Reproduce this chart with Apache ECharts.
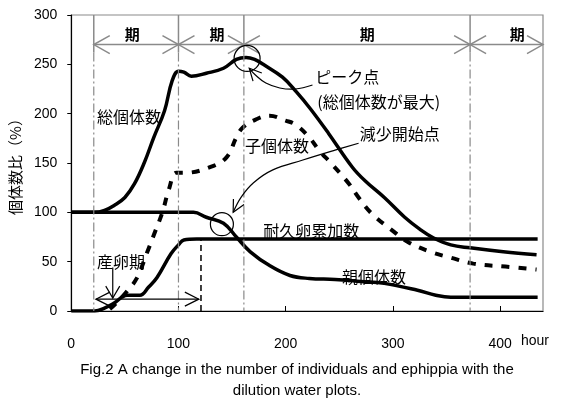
<!DOCTYPE html>
<html>
<head>
<meta charset="utf-8">
<script src="https://cdn.jsdelivr.net/npm/echarts@6/dist/echarts.min.js"></script>
<style>
html, body { margin: 0; background: #fff; }
#chart { width: 563px; height: 399px; }
</style>
</head>
<body>
<div id="chart"></div>
<script>
// 総個体数 [hour, %]
const totalPts = [[0, 100], [22, 100], [31, 102], [40, 107], [50, 115], [59, 129], [68, 150], [77, 176],
  [87, 203], [94, 233], [100, 243], [105, 242], [112, 238], [126, 241], [142, 246], [154, 255],
  [163, 257], [171, 255], [179, 250], [197, 237], [210, 222], [223, 205], [240, 180], [262, 146],
  [274, 132], [292, 115], [311, 95], [325, 83], [338, 74], [354, 67], [372, 64], [403, 60], [434, 57]];
// 子個体数
const childPts = [[36, 2], [42, 8], [52, 20], [61, 33], [71, 60], [77, 77], [85, 100], [91, 123],
  [98, 140], [105, 140], [130, 146], [145, 156], [154, 176], [160, 186], [172, 194], [185, 198],
  [200, 193], [209, 189], [222, 176], [231, 163], [243, 149], [259, 129], [268, 115], [280, 99],
  [299, 82], [314, 70], [335, 60], [354, 54], [375, 48], [405, 45], [434, 42]];
// 親個体数
const parentPts = [[0, 100], [114, 100], [126, 95], [142, 89], [154, 75], [167, 60], [185, 46],
  [204, 36], [222, 33], [246, 32], [270, 30], [292, 28], [323, 21], [340, 16], [354, 14], [435, 14]];
// 耐久卵累加数
const ephippiaPts = [[0, 0], [22, 0], [31, 3], [40, 8], [52, 16], [64, 16], [72, 24], [80, 34],
  [93, 58], [100, 67], [105, 72], [117, 73], [435, 73]];

// 期の区切り (hour)
const periodBounds = [21, 100, 161, 372, 440];
const periodLabelX = [57, 136, 276, 416];

// 丸印 [hour, %]
const peakCircle = [164, 256];
const declineCircle = [140.5, 88];

// 引き出し線
const peakLeader = [[225, 229], [209, 225], [194.5, 226], [181.5, 231], [172, 239], [166, 246]];
const declineLeader = [[268, 170], [246, 163], [216, 153], [188, 143], [170, 130], [158.5, 115.5], [151, 100]];

// 産卵期
const eggSpan = [23, 119];
const eggPointerX = 38.7;
const eggEndX = 121;

// 注記テキスト [text, hour, %]
const notes = [
  ['総個体数', 24, 196.5],
  ['子個体数', 162, 167],
  ['ピーク点', 227.6, 237],
  ['(総個体数が最大)', 229.5, 212],
  ['減少開始点', 269, 179],
  ['耐久卵累加数', 179, 81],
  ['親個体数', 252.5, 34.5],
  ['産卵期', 24, 49.6]
];

const jpFont = '"Noto Sans CJK JP", sans-serif';

function arrowHead(tip, dir, L, W) {
  const len = Math.hypot(dir[0], dir[1]);
  const ux = dir[0] / len, uy = dir[1] / len;
  const bx = tip[0] - ux * L, by = tip[1] - uy * L;
  return [[bx - uy * W, by + ux * W], tip, [bx + uy * W, by - ux * W]];
}

function renderNotes(params, api) {
  const els = [];
  const gray = '#8a8a8a';
  const line = (pts, style) => ({
    type: 'polyline',
    shape: { points: pts },
    style: Object.assign({ fill: 'none', stroke: '#000', lineWidth: 1.2 }, style)
  });
  const c = p => api.coord(p);

  // 期の縦線
  periodBounds.slice(0, 4).forEach(x => {
    els.push(line([c([x, 300]), c([x, 262])], { stroke: gray, lineWidth: 1.5 }));
    els.push(line([c([x, 262]), c([x, 0])], { stroke: gray, lineWidth: 1.2, lineDash: [9, 3, 2, 3] }));
  });
  // 期の矢印
  els.push(line([c([periodBounds[0], 270]), c([periodBounds[4], 270])], { stroke: gray, lineWidth: 1.5 }));
  periodBounds.forEach((x, i) => {
    const p = c([x, 270]);
    if (i > 0) els.push(line(arrowHead(p, [1, 0], 16, 9), { stroke: gray, lineWidth: 1.5 }));
    if (i < periodBounds.length - 1) els.push(line(arrowHead(p, [-1, 0], 16, 9), { stroke: gray, lineWidth: 1.5 }));
  });
  periodLabelX.forEach(x => {
    const p = c([x, 280.5]);
    els.push({ type: 'text', style: { text: '期', x: p[0], y: p[1], fill: '#000', fontSize: 15, fontWeight: 'bold', fontFamily: jpFont, align: 'center', verticalAlign: 'middle' } });
  });

  // 丸印
  const pc = c(peakCircle), dc = c(declineCircle);
  els.push({ type: 'circle', shape: { cx: pc[0], cy: pc[1], r: 13 }, style: { fill: 'none', stroke: '#000', lineWidth: 1.2 } });
  els.push({ type: 'circle', shape: { cx: dc[0], cy: dc[1], r: 11.5 }, style: { fill: 'none', stroke: '#000', lineWidth: 1.2 } });

  // 引き出し線
  [peakLeader, declineLeader].forEach(ld => {
    const pts = ld.map(c);
    els.push({ type: 'polyline', shape: { points: pts, smooth: 0.4 }, style: { fill: 'none', stroke: '#000', lineWidth: 1.2 } });
    const n = pts.length;
    const tip = pts[n - 1], prev = pts[n - 2];
    els.push(line(arrowHead(tip, [tip[0] - prev[0], tip[1] - prev[1]], 12, 6)));
  });

  // 産卵期の矢印
  const e0 = c([eggSpan[0], 12]), e1 = c([eggSpan[1], 12]);
  els.push(line([e0, e1]));
  els.push(line(arrowHead(e0, [-1, 0], 14, 7)));
  els.push(line(arrowHead(e1, [1, 0], 14, 7)));
  const q0 = c([eggPointerX, 44]), q1 = c([eggPointerX, 13]);
  els.push(line([q0, q1]));
  els.push(line(arrowHead(q1, [0, 1], 12, 7)));
  // 産卵終了の破線
  els.push(line([c([eggEndX, 0]), c([eggEndX, 73])], { lineWidth: 1.5, lineDash: [6, 4] }));

  // 注記
  notes.forEach(([t, x, y]) => {
    const p = c([x, y]);
    els.push({ type: 'text', style: { text: t, x: p[0], y: p[1], fill: '#000', fontSize: 16, fontFamily: jpFont, align: 'left', verticalAlign: 'middle' } });
  });

  return { type: 'group', children: els };
}

const curveStyle = { color: '#000', width: 3.5 };

const chart = echarts.init(document.getElementById('chart'));
chart.setOption({
  animation: false,
  backgroundColor: '#fff',
  grid: { left: 66, right: 20, top: 15, bottom: 88, show: true, borderColor: '#8a8a8a', borderWidth: 1.2 },
  xAxis: {
    type: 'value', min: 0, max: 440, interval: 100,
    axisLine: { lineStyle: { color: '#000', width: 1.2 } },
    axisTick: { inside: true, length: 5, lineStyle: { color: '#000' } },
    axisLabel: { color: '#000', fontSize: 14, margin: 26, fontFamily: 'Liberation Sans', showMaxLabel: false },
    splitLine: { show: false }
  },
  yAxis: {
    type: 'value', min: 0, max: 300, interval: 50,
    name: '個体数比（%）', nameLocation: 'middle', nameRotate: 90, nameGap: 30,
    nameTextStyle: { color: '#000', fontSize: 15, fontFamily: jpFont },
    axisLine: { show: true, lineStyle: { color: '#000', width: 1.2 } },
    axisTick: { show: true, inside: false, length: 4, lineStyle: { color: '#000' } },
    axisLabel: { color: '#000', fontSize: 14, margin: 14, fontFamily: 'Liberation Sans' },
    splitLine: { show: false }
  },
  graphic: [
    { type: 'text', left: 521, top: 334, style: { text: 'hour', fill: '#000', font: '14px "Liberation Sans"' } },
    { type: 'text', x: 297, y: 362, style: { text: 'Fig.2 A change in the number of individuals and ephippia with the', fill: '#000', font: '15px "Liberation Sans"', align: 'center' } },
    { type: 'text', x: 297, y: 383, style: { text: 'dilution water plots.', fill: '#000', font: '15px "Liberation Sans"', align: 'center' } }
  ],
  series: [
    { name: '総個体数', type: 'line', data: totalPts, symbol: 'none', smooth: 0.4, lineStyle: curveStyle },
    { name: '子個体数', type: 'line', data: childPts, symbol: 'none', smooth: 0.4, lineStyle: { color: '#000', width: 4, type: [8, 9] } },
    { name: '親個体数', type: 'line', data: parentPts, symbol: 'none', smooth: 0.4, lineStyle: curveStyle },
    { name: '耐久卵累加数', type: 'line', data: ephippiaPts, symbol: 'none', smooth: 0.4, lineStyle: curveStyle },
    { type: 'custom', data: [[0, 0]], renderItem: renderNotes, silent: true, clip: false, z: 5 }
  ]
});
</script>
</body>
</html>
